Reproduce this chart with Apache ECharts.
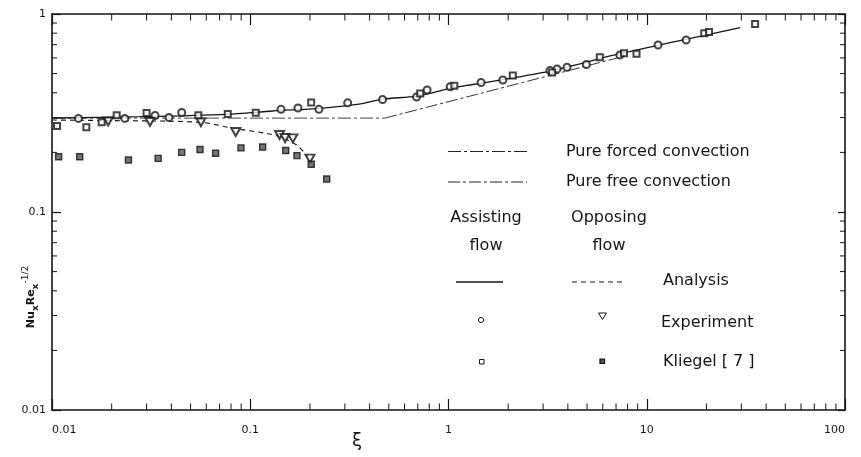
<!DOCTYPE html>
<html>
<head>
<meta charset="utf-8">
<script src="https://cdn.jsdelivr.net/npm/echarts@6/dist/echarts.min.js"></script>
<style>html,body{margin:0;padding:0;background:#fff;}#c{width:861px;height:457px;}</style>
</head>
<body>
<div id="c"></div>
<script>
// ---- tick labels ----
const xTickLabels = ['0.01', '0.1', '1', '10', '100'];
const yTickLabels = ['0.01', '0.1', '1'];

// ---- Analysis curves ----
const assistAnaX = [0.01, 0.0278, 0.0761, 0.130, 0.2247, 0.345, 0.467, 0.69, 1.05, 1.33, 3.25, 6.9, 13.9, 29.6];
const assistAnaY = [0.2983, 0.3029, 0.3113, 0.3236, 0.334, 0.3495, 0.3718, 0.3846, 0.4236, 0.4405, 0.5152, 0.621, 0.725, 0.8545];
const oppAnaX = [0.01, 0.01746, 0.0558, 0.0817, 0.121, 0.141, 0.171, 0.192, 0.204];
const oppAnaY = [0.2915, 0.2898, 0.2838, 0.265, 0.2493, 0.240, 0.218, 0.1941, 0.1763];
const forcedX = [0.01, 0.478];
const forcedY = [0.298, 0.298];
const freeX = [0.478, 7.76];
const freeY = [0.298, 0.6136];

// ---- Experiment ----
const assistExpX = [0.0136, 0.0233, 0.0331, 0.0389, 0.0451, 0.143, 0.174, 0.222, 0.310, 0.465, 0.69, 0.78, 1.02, 1.46, 1.88, 3.25, 3.53, 3.96, 4.96, 7.32, 11.4, 15.8];
const assistExpY = [0.297, 0.297, 0.307, 0.300, 0.318, 0.330, 0.335, 0.330, 0.356, 0.370, 0.381, 0.413, 0.429, 0.451, 0.464, 0.518, 0.528, 0.538, 0.556, 0.621, 0.697, 0.739];
const oppExpX = [0.0192, 0.0312, 0.0564, 0.0845, 0.1406, 0.1498, 0.164, 0.200];
const oppExpY = [0.2865, 0.285, 0.284, 0.2535, 0.2448, 0.2364, 0.2355, 0.186];

// ---- Kliegel [7] ----
const assistKlX = [0.0106, 0.0149, 0.0178, 0.0212, 0.0300, 0.0547, 0.077, 0.1066, 0.203, 0.72, 1.07, 2.11, 3.33, 5.80, 7.68, 8.88, 19.5, 20.6, 35.2];
const assistKlY = [0.272, 0.268, 0.284, 0.308, 0.316, 0.308, 0.313, 0.317, 0.357, 0.397, 0.434, 0.489, 0.507, 0.604, 0.634, 0.630, 0.80, 0.81, 0.89];
const oppKlX = [0.0108, 0.0138, 0.0243, 0.0343, 0.0451, 0.0558, 0.0669, 0.0898, 0.1155, 0.151, 0.172, 0.203, 0.243];
const oppKlY = [0.190, 0.190, 0.183, 0.1866, 0.200, 0.207, 0.198, 0.2107, 0.213, 0.2045, 0.1926, 0.1742, 0.1468];

const zip = (a, b) => a.map((v, i) => [v, b[i]]);
const X_MIN = 0.01, X_MAX = 100, Y_MIN = 0.01, Y_MAX = 1;

// minor tick positions (2..9 within each decade)
const xMinor = [], yMinor = [];
for (let d = X_MIN; d < X_MAX * 0.99; d *= 10) for (let k = 2; k <= 9; k++) xMinor.push(+(k * d).toPrecision(3));
for (let d = Y_MIN; d < Y_MAX * 0.99; d *= 10) for (let k = 2; k <= 9; k++) yMinor.push(+(k * d).toPrecision(3));

const FONT = 'DejaVu Sans';
const INK = '#151515';

const chart = echarts.init(document.getElementById('c'), null, { renderer: 'canvas' });

const axisCommon = {
  type: 'log', logBase: 10,
  splitLine: { show: false },
  axisLine: { show: true, lineStyle: { color: INK, width: 1.6 } },
  axisTick: { show: true, inside: true, length: 11, lineStyle: { color: INK, width: 1.2 } },
};

chart.setOption({
  backgroundColor: '#fff',
  animation: false,
  grid: { left: 52, right: 16, top: 14, bottom: 47 },
  xAxis: [
    Object.assign({}, axisCommon, {
      position: 'bottom', min: X_MIN, max: X_MAX,
      axisLabel: {
        margin: 15, color: INK, fontFamily: FONT, fontSize: 11,
        alignMinLabel: 'left', alignMaxLabel: 'right',
        formatter: v => xTickLabels[Math.round(Math.log10(v) - Math.log10(X_MIN))]
      }
    }),
    Object.assign({}, axisCommon, {
      position: 'top', min: X_MIN, max: X_MAX, axisLabel: { show: false }
    })
  ],
  yAxis: [
    Object.assign({}, axisCommon, {
      position: 'left', min: Y_MIN, max: Y_MAX,
      axisTick: { show: true, inside: true, length: 9, lineStyle: { color: INK, width: 1.2 } },
      axisLabel: {
        margin: 6, color: INK, fontFamily: FONT, fontSize: 11,
        formatter: v => yTickLabels[Math.round(Math.log10(v) - Math.log10(Y_MIN))]
      }
    }),
    Object.assign({}, axisCommon, {
      position: 'right', min: Y_MIN, max: Y_MAX,
      axisTick: { show: true, inside: true, length: 7, lineStyle: { color: INK, width: 1.2 } },
      axisLabel: { show: false }
    })
  ],
  series: [
    // minor ticks on x axes (bottom & top)
    {
      type: 'custom', silent: true, clip: false, z: 1,
      data: xMinor.map(v => [v, Y_MIN]),
      renderItem: (params, api) => {
        const v = api.value(0);
        const b = api.coord([v, Y_MIN]);
        const t = api.coord([v, Y_MAX]);
        return { type: 'group', children: [
          { type: 'line', shape: { x1: b[0], y1: b[1], x2: b[0], y2: b[1] - 6.5 }, style: { stroke: INK, lineWidth: 1 } },
          { type: 'line', shape: { x1: t[0], y1: t[1], x2: t[0], y2: t[1] + 6.5 }, style: { stroke: INK, lineWidth: 1 } }
        ] };
      }
    },
    // minor ticks on y axes (left & right)
    {
      type: 'custom', silent: true, clip: false, z: 1,
      data: yMinor.map(v => [X_MIN, v]),
      renderItem: (params, api) => {
        const v = api.value(1);
        const l = api.coord([X_MIN, v]);
        const r = api.coord([X_MAX, v]);
        return { type: 'group', children: [
          { type: 'line', shape: { x1: l[0], y1: l[1], x2: l[0] + 5, y2: l[1] }, style: { stroke: INK, lineWidth: 1 } },
          { type: 'line', shape: { x1: r[0], y1: r[1], x2: r[0] - 5, y2: r[1] }, style: { stroke: INK, lineWidth: 1 } }
        ] };
      }
    },
    {
      name: 'Pure forced convection', type: 'line', data: zip(forcedX, forcedY), symbol: 'none', z: 2,
      lineStyle: { color: '#444', width: 1, type: [13, 3, 3, 3] }
    },
    {
      name: 'Pure free convection', type: 'line', data: zip(freeX, freeY), symbol: 'none', z: 2,
      lineStyle: { color: '#333', width: 1, type: [12, 3, 3, 3] }
    },
    {
      name: 'Analysis assisting', type: 'line', data: zip(assistAnaX, assistAnaY), symbol: 'none', smooth: 0.3, z: 3,
      lineStyle: { color: INK, width: 1.3, type: 'solid' }
    },
    {
      name: 'Analysis opposing', type: 'line', data: zip(oppAnaX, oppAnaY), symbol: 'none', smooth: 0.3, z: 3,
      lineStyle: { color: INK, width: 1.1, type: [5, 4] }
    },
    {
      name: 'Experiment assisting', type: 'scatter', data: zip(assistExpX, assistExpY), z: 5,
      symbol: 'emptyCircle', symbolSize: 7,
      itemStyle: { color: INK, borderColor: INK, borderWidth: 1.1 }
    },
    {
      name: 'Experiment opposing', type: 'scatter', data: zip(oppExpX, oppExpY), z: 5,
      symbol: 'emptyTriangle', symbolSize: [9, 8], symbolRotate: 180,
      itemStyle: { color: INK, borderColor: INK, borderWidth: 1.1 }
    },
    {
      name: 'Kliegel assisting', type: 'scatter', data: zip(assistKlX, assistKlY), z: 5,
      symbol: 'emptyRect', symbolSize: 6,
      itemStyle: { color: INK, borderColor: INK, borderWidth: 1.1 }
    },
    {
      name: 'Kliegel opposing', type: 'scatter', data: zip(oppKlX, oppKlY), z: 5,
      symbol: 'rect', symbolSize: 6,
      itemStyle: { color: '#555', borderColor: '#111', borderWidth: 1.4 }
    }
  ],
  graphic: [
    // axis names
    {
      type: 'text', x: 31, y: 297, rotation: Math.PI / 2, silent: true,
      style: {
        text: 'Nu{sub|x}Re{sub|x}{sup|-1/2}', fill: INK, font: 'bold 11px "DejaVu Sans"',
        align: 'center', verticalAlign: 'middle',
        rich: {
          sub: { fontSize: 9, fontWeight: 'bold', fontFamily: FONT, lineHeight: 9, verticalAlign: 'bottom' },
          sup: { fontSize: 9, fontWeight: 'normal', fontFamily: FONT, lineHeight: 9, verticalAlign: 'top' }
        },
        lineHeight: 19
      }
    },
    { type: 'text', x: 357, y: 441, silent: true,
      style: { text: 'ξ', fill: INK, font: '18px "DejaVu Sans"', align: 'center', verticalAlign: 'middle' } },
    // legend: pure convection lines
    { type: 'line', silent: true, shape: { x1: 448, y1: 151.5, x2: 527, y2: 151.5 },
      style: { stroke: '#222', lineWidth: 1, lineDash: [13, 3, 3, 3] } },
    { type: 'text', x: 566, y: 151.5, silent: true,
      style: { text: 'Pure forced convection', fill: INK, font: '16px "DejaVu Sans"', align: 'left', verticalAlign: 'middle' } },
    { type: 'line', silent: true, shape: { x1: 448, y1: 182, x2: 527, y2: 182 },
      style: { stroke: '#222', lineWidth: 1, lineDash: [12, 3, 3, 3] } },
    { type: 'text', x: 566, y: 182, silent: true,
      style: { text: 'Pure free convection', fill: INK, font: '16px "DejaVu Sans"', align: 'left', verticalAlign: 'middle' } },
    // column headers
    { type: 'text', x: 486, y: 232, silent: true,
      style: { text: 'Assisting\nflow', fill: INK, font: '16px "DejaVu Sans"', align: 'center', verticalAlign: 'middle', lineHeight: 28 } },
    { type: 'text', x: 609, y: 232, silent: true,
      style: { text: 'Opposing\nflow', fill: INK, font: '16px "DejaVu Sans"', align: 'center', verticalAlign: 'middle', lineHeight: 28 } },
    // analysis row
    { type: 'line', silent: true, shape: { x1: 456, y1: 282, x2: 503, y2: 282 }, style: { stroke: INK, lineWidth: 1.3 } },
    { type: 'line', silent: true, shape: { x1: 572, y1: 282, x2: 624, y2: 282 }, style: { stroke: INK, lineWidth: 1.1, lineDash: [5, 4] } },
    { type: 'text', x: 663, y: 281, silent: true,
      style: { text: 'Analysis', fill: INK, font: '16px "DejaVu Sans"', align: 'left', verticalAlign: 'middle' } },
    // experiment row
    { type: 'circle', silent: true, shape: { cx: 481, cy: 320, r: 2.6 }, style: { stroke: INK, fill: '#fff', lineWidth: 1 } },
    { type: 'polygon', silent: true, shape: { points: [[598.5, 313], [606.5, 313], [602.5, 319.5]] }, style: { stroke: INK, fill: '#fff', lineWidth: 1 } },
    { type: 'text', x: 661, y: 323, silent: true,
      style: { text: 'Experiment', fill: INK, font: '16px "DejaVu Sans"', align: 'left', verticalAlign: 'middle' } },
    // Kliegel row
    { type: 'rect', silent: true, shape: { x: 479.5, y: 359.5, width: 4.5, height: 4.5 }, style: { stroke: INK, fill: '#fff', lineWidth: 1 } },
    { type: 'rect', silent: true, shape: { x: 600, y: 359, width: 4.5, height: 4.5 }, style: { stroke: '#111', fill: '#555', lineWidth: 1.2 } },
    { type: 'text', x: 663, y: 362, silent: true,
      style: { text: 'Kliegel [ 7 ]', fill: INK, font: '16px "DejaVu Sans"', align: 'left', verticalAlign: 'middle' } }
  ]
});
</script>
</body>
</html>
